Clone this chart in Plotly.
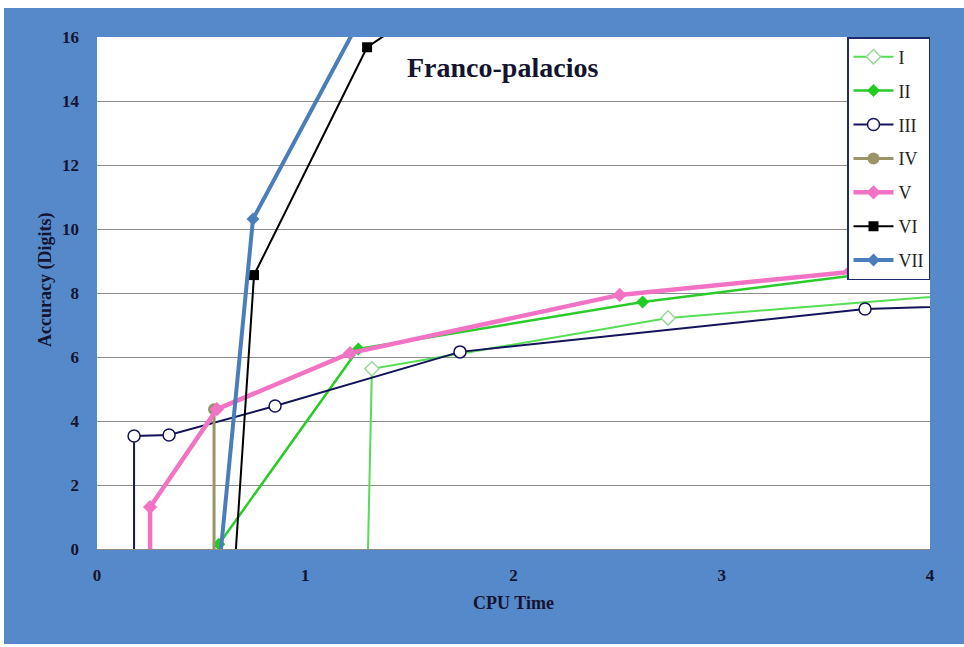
import plotly.graph_objects as go

# ---- data ----
names = ["I", "II", "III", "IV", "V", "VI", "VII"]

x_I = [1.298, 1.32, 2.742, 5.0]
y_I = [-1.0, 5.63, 7.22, 8.4]

x_II = [0.585, 1.255, 2.62, 3.7, 4.5]
y_II = [0.15, 6.25, 7.72, 8.6, 9.1]

x_III = [0.178, 0.178, 0.346, 0.855, 1.743, 3.688, 5.5]
y_III = [-0.5, 3.53, 3.56, 4.47, 6.16, 7.5, 7.85]

x_IV = [0.562, 0.562]
y_IV = [-0.5, 4.37]

x_V = [0.255, 0.255, 0.576, 1.215, 2.51, 3.62, 4.6]
y_V = [-0.5, 1.31, 4.37, 6.12, 7.94, 8.7, 9.3]

x_VI = [0.662, 0.754, 1.297, 1.6]
y_VI = [-0.5, 8.56, 15.68, 17.0]

x_VII = [0.588, 0.749, 1.3]
y_VII = [-0.5, 10.31, 17.0]

y_ticks = [0, 2, 4, 6, 8, 10, 12, 14, 16]
x_ticks = [0, 1, 2, 3, 4]

# ---- styles ----
styles = {
    "I":   dict(line=dict(color="#55DD55", width=2),
                marker=dict(symbol="diamond", size=11, color="white",
                            line=dict(color="#9AD89A", width=1.5))),
    "II":  dict(line=dict(color="#2BCB2B", width=2.5),
                marker=dict(symbol="diamond", size=10, color="#22CC22",
                            line=dict(color="#22CC22", width=0))),
    "III": dict(line=dict(color="#14145A", width=2),
                marker=dict(symbol="circle", size=12, color="white",
                            line=dict(color="#14145A", width=1.5))),
    "IV":  dict(line=dict(color="#9A9467", width=3),
                marker=dict(symbol="circle", size=12, color="#9A9467",
                            line=dict(color="#9A9467", width=0))),
    "V":   dict(line=dict(color="#F272C4", width=4.5),
                marker=dict(symbol="diamond", size=11, color="#F272C4",
                            line=dict(color="#F272C4", width=0))),
    "VI":  dict(line=dict(color="#000000", width=2),
                marker=dict(symbol="square", size=10, color="#000000",
                            line=dict(color="#000000", width=0))),
    "VII": dict(line=dict(color="#4A7EBB", width=4),
                marker=dict(symbol="diamond", size=10, color="#4A7EBB",
                            line=dict(color="#4A7EBB", width=0))),
}

series = {
    "I": (x_I, y_I), "II": (x_II, y_II), "III": (x_III, y_III),
    "IV": (x_IV, y_IV), "V": (x_V, y_V), "VI": (x_VI, y_VI), "VII": (x_VII, y_VII),
}

fig = go.Figure()
for n in names:
    xs, ys = series[n]
    fig.add_trace(go.Scatter(x=xs, y=ys, mode="lines+markers", name=n,
                             legendgroup=n, **styles[n]))

BLUE = "#5689C9"
TXT = "#141430"
SERIF = "Liberation Serif"

fig.update_layout(
    width=964, height=647,
    margin=dict(l=97, r=34, t=37, b=98),
    paper_bgcolor=BLUE,
    plot_bgcolor="white",
    font=dict(family=SERIF, color=TXT),
    showlegend=True,
    legend=dict(x=1, xanchor="right", y=1, yanchor="top",
                bgcolor="white", bordercolor="#1F2A6B", borderwidth=1.5,
                font=dict(family=SERIF, size=18, color="#222222"),
                tracegroupgap=7.5, traceorder="grouped", itemwidth=40),
    xaxis=dict(range=[0, 4], tickvals=x_ticks, ticktext=[f"<b>{v}</b>" for v in x_ticks],
               showgrid=False, zeroline=False,
               showline=True, linecolor="#8C8C8C", linewidth=1,
               tickfont=dict(family=SERIF, size=17, color=TXT),
               ticklabelstandoff=11,
               title=dict(text="<b>CPU Time</b>", standoff=11,
                          font=dict(family=SERIF, size=18, color=TXT))),
    yaxis=dict(range=[0, 16], tickvals=y_ticks, ticktext=[f"<b>{v}</b>" for v in y_ticks],
               showgrid=True, gridcolor="#8C8C8C",
               gridwidth=1, zeroline=False, showline=False,
               tickfont=dict(family=SERIF, size=17, color=TXT),
               ticklabelstandoff=17),
    annotations=[
        dict(text="<b>Franco-palacios</b>", xref="paper", yref="paper",
             x=0.487, y=(549 - 67) / 512, xanchor="center", yanchor="middle",
             showarrow=False, font=dict(family=SERIF, size=28, color=TXT)),
        dict(text="<b>Accuracy (Digits)</b>", xref="paper", yref="paper",
             x=(45 - 97) / 833, y=(549 - 280) / 512, xanchor="center", yanchor="middle",
             textangle=-90, showarrow=False, font=dict(family=SERIF, size=18, color=TXT)),
    ],
    shapes=[
        # white strips around the blue frame
        dict(type="rect", xref="paper", yref="paper", x0=-0.2, x1=1.1,
             y0=1 + (37 - 8) / 512, y1=1.2, fillcolor="white", line=dict(width=0)),
        dict(type="rect", xref="paper", yref="paper", x0=-0.2, x1=-(97 - 4) / 833,
             y0=-0.3, y1=1.2, fillcolor="white", line=dict(width=0)),
        dict(type="rect", xref="paper", yref="paper", x0=-0.2, x1=1.1,
             y0=-0.3, y1=(549 - 644) / 512, fillcolor="white", line=dict(width=0)),
    ],
)

fig.write_html("out.html")
